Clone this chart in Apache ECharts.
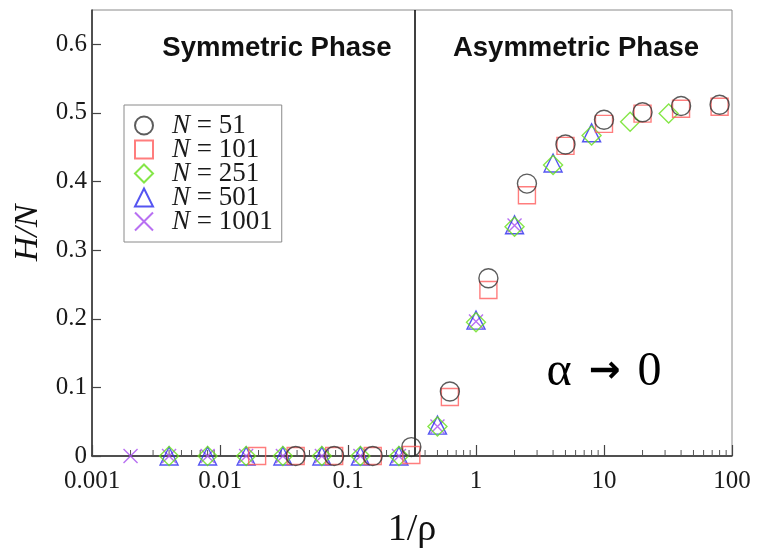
<!DOCTYPE html>
<html><head><meta charset="utf-8">
<script src="https://cdn.jsdelivr.net/npm/echarts@6/dist/echarts.min.js"></script>
<style>html,body{margin:0;padding:0;background:#fff}#c{width:758px;height:558px}</style>
</head><body><div id="c"></div>
<script>
// ---- data ----
const seriesNames = ['N = 51', 'N = 101', 'N = 251', 'N = 501', 'N = 1001'];
const x51  = [0.039, 0.078, 0.156, 0.3125, 0.625, 1.25, 2.5, 5, 10, 20, 40, 80];
const y51  = [0, 0, 0, 0.013, 0.094, 0.259, 0.397, 0.454, 0.490, 0.501, 0.510, 0.512];
const x101 = [0.0195, 0.039, 0.078, 0.156, 0.3125, 0.625, 1.25, 2.5, 5, 10, 20, 40, 80];
const y101 = [0, 0, 0, 0, 0.0015, 0.086, 0.242, 0.380, 0.452, 0.484, 0.499, 0.506, 0.509];
const x251 = [0.004, 0.008, 0.016, 0.031, 0.0625, 0.125, 0.25, 0.5, 1, 2, 4, 8, 16, 32];
const y251 = [0, 0, 0, 0, 0, 0, 0, 0.043, 0.195, 0.334, 0.424, 0.467, 0.487, 0.499];
const x501 = [0.004, 0.008, 0.016, 0.031, 0.0625, 0.125, 0.25, 0.5, 1, 2, 4, 8];
const y501 = [0, 0, 0, 0, 0, 0, 0, 0.045, 0.198, 0.337, 0.427, 0.471];
const x1001 = [0.002, 0.004, 0.008, 0.016, 0.031, 0.0625, 0.125, 0.25, 0.5, 1, 2];
const y1001 = [0, 0, 0, 0, 0, 0, 0, 0, 0.043, 0.196, 0.336];
const xTickLabels = ['0.001', '0.01', '0.1', '1', '10', '100'];
const yTickLabels = ['0', '0.1', '0.2', '0.3', '0.4', '0.5', '0.6'];
const minorDecades = [0.001, 0.01, 0.1, 1, 10];
const minorMultipliers = [2, 3, 4, 5, 6, 7, 8, 9];
const transitionX = 1 / 3;

// ---- chart ----
const pair = (xs, ys) => xs.map((x, i) => [x, ys[i]]);
const minorTicks = [];
minorDecades.forEach(d => minorMultipliers.forEach(m => minorTicks.push([d * m, 0])));

const serif = '"Liberation Serif", "Times New Roman", serif';
const sans = '"Liberation Sans", Arial, sans-serif';
const colors = ['#333333', '#ff5c5c', '#66e01a', '#2a2aee', '#a64cef'];
const symbols = ['circle', 'rect', 'diamond', 'triangle', 'path://M0,0L10,10M0,10L10,0'];
const sizes = [19, 17, 19, 18, 14];
const datasets = [pair(x51, y51), pair(x101, y101), pair(x251, y251), pair(x501, y501), pair(x1001, y1001)];

const scatterSeries = seriesNames.map((name, i) => ({
  name: name,
  type: 'scatter',
  symbol: symbols[i],
  symbolSize: sizes[i],
  data: datasets[i],
  z: 10 - i,
  itemStyle: { color: 'transparent', borderColor: colors[i], borderWidth: 1.4 },
  emphasis: { disabled: true }
}));

const chart = echarts.init(document.getElementById('c'), null, { renderer: 'canvas' });
chart.setOption({
  animation: false,
  backgroundColor: '#ffffff',
  grid: { left: 92, right: 26, top: 10, bottom: 102, show: true, borderColor: '#8a8a8a', borderWidth: 1 },
  legend: {
    data: seriesNames,
    orient: 'vertical',
    left: 124, top: 105,
    padding: [7, 9, 7, 10],
    itemWidth: 18, itemHeight: 18, itemGap: -3,
    borderColor: '#8a8a8a', borderWidth: 1,
    selectedMode: false,
    formatter: name => '{n|N}{t|' + name.slice(1) + '}',
    textStyle: {
      rich: {
        n: { fontFamily: serif, fontStyle: 'italic', fontSize: 27, lineHeight: 24, color: '#1a1a1a', padding: [0, 0, 0, 14] },
        t: { fontFamily: serif, fontSize: 27, lineHeight: 24, color: '#1a1a1a' }
      }
    }
  },
  xAxis: {
    type: 'log', logBase: 10, min: 0.001, max: 100,
    name: '1/ρ', nameLocation: 'middle', nameGap: 55,
    nameTextStyle: { fontFamily: serif, fontSize: 38, color: '#111' },
    axisLine: { lineStyle: { color: '#2a2a2a', width: 1.5 } },
    axisTick: { inside: true, length: 11, lineStyle: { color: '#444', width: 1.2 } },
    splitLine: { show: false },
    axisLabel: {
      margin: 13, fontFamily: serif, fontSize: 25, color: '#1a1a1a',
      formatter: v => xTickLabels[Math.round(Math.log10(v)) + 3]
    }
  },
  yAxis: {
    type: 'value', min: 0, max: 0.65, interval: 0.1,
    name: 'H/N', nameLocation: 'middle', nameGap: 42, nameRotate: 90,
    nameTextStyle: { fontFamily: serif, fontStyle: 'italic', fontSize: 34, color: '#111' },
    axisLine: { lineStyle: { color: '#2a2a2a', width: 1.5 } },
    axisTick: { inside: true, length: 9, lineStyle: { color: '#444', width: 1.2 } },
    splitLine: { show: false },
    axisLabel: {
      margin: 5, fontFamily: serif, fontSize: 25, color: '#1a1a1a', showMaxLabel: false,
      formatter: v => { const k = Math.round(v * 10); return Math.abs(v * 10 - k) < 1e-6 ? yTickLabels[k] : ''; }
    }
  },
  series: [
    ...scatterSeries,
    {
      name: 'minorTicks', type: 'custom', silent: true, clip: false, z: 2,
      data: minorTicks,
      renderItem: (params, api) => {
        const p = api.coord([api.value(0), 0]);
        return { type: 'line', shape: { x1: p[0], y1: p[1], x2: p[0], y2: p[1] - 6 }, style: { stroke: '#555', lineWidth: 1 } };
      },
      markLine: {
        silent: true, symbol: 'none', label: { show: false },
        lineStyle: { color: '#000', width: 1.5, type: 'solid' },
        data: [{ xAxis: transitionX }]
      }
    }
  ],
  graphic: [
    { type: 'text', x: 277, y: 48, style: { text: 'Symmetric Phase', font: 'bold 27.5px ' + sans, fill: '#111', align: 'center', verticalAlign: 'middle', textAlign: 'center', textVerticalAlign: 'middle' } },
    { type: 'text', x: 576, y: 48, style: { text: 'Asymmetric Phase', font: 'bold 27.5px ' + sans, fill: '#111', align: 'center', verticalAlign: 'middle', textAlign: 'center', textVerticalAlign: 'middle' } },
    { type: 'text', x: 604, y: 372, style: {
        text: '{a|α}{b|→}{a|0}', align: 'center', verticalAlign: 'middle', textAlign: 'center', textVerticalAlign: 'middle',
        rich: {
          a: { fontFamily: serif, fontSize: 48, color: '#111' },
          b: { fontFamily: '"DejaVu Sans", sans-serif', fontWeight: 'bold', fontSize: 38, color: '#111', padding: [0, 17, 0, 17] }
        } } }
  ]
});
</script>
</body></html>
